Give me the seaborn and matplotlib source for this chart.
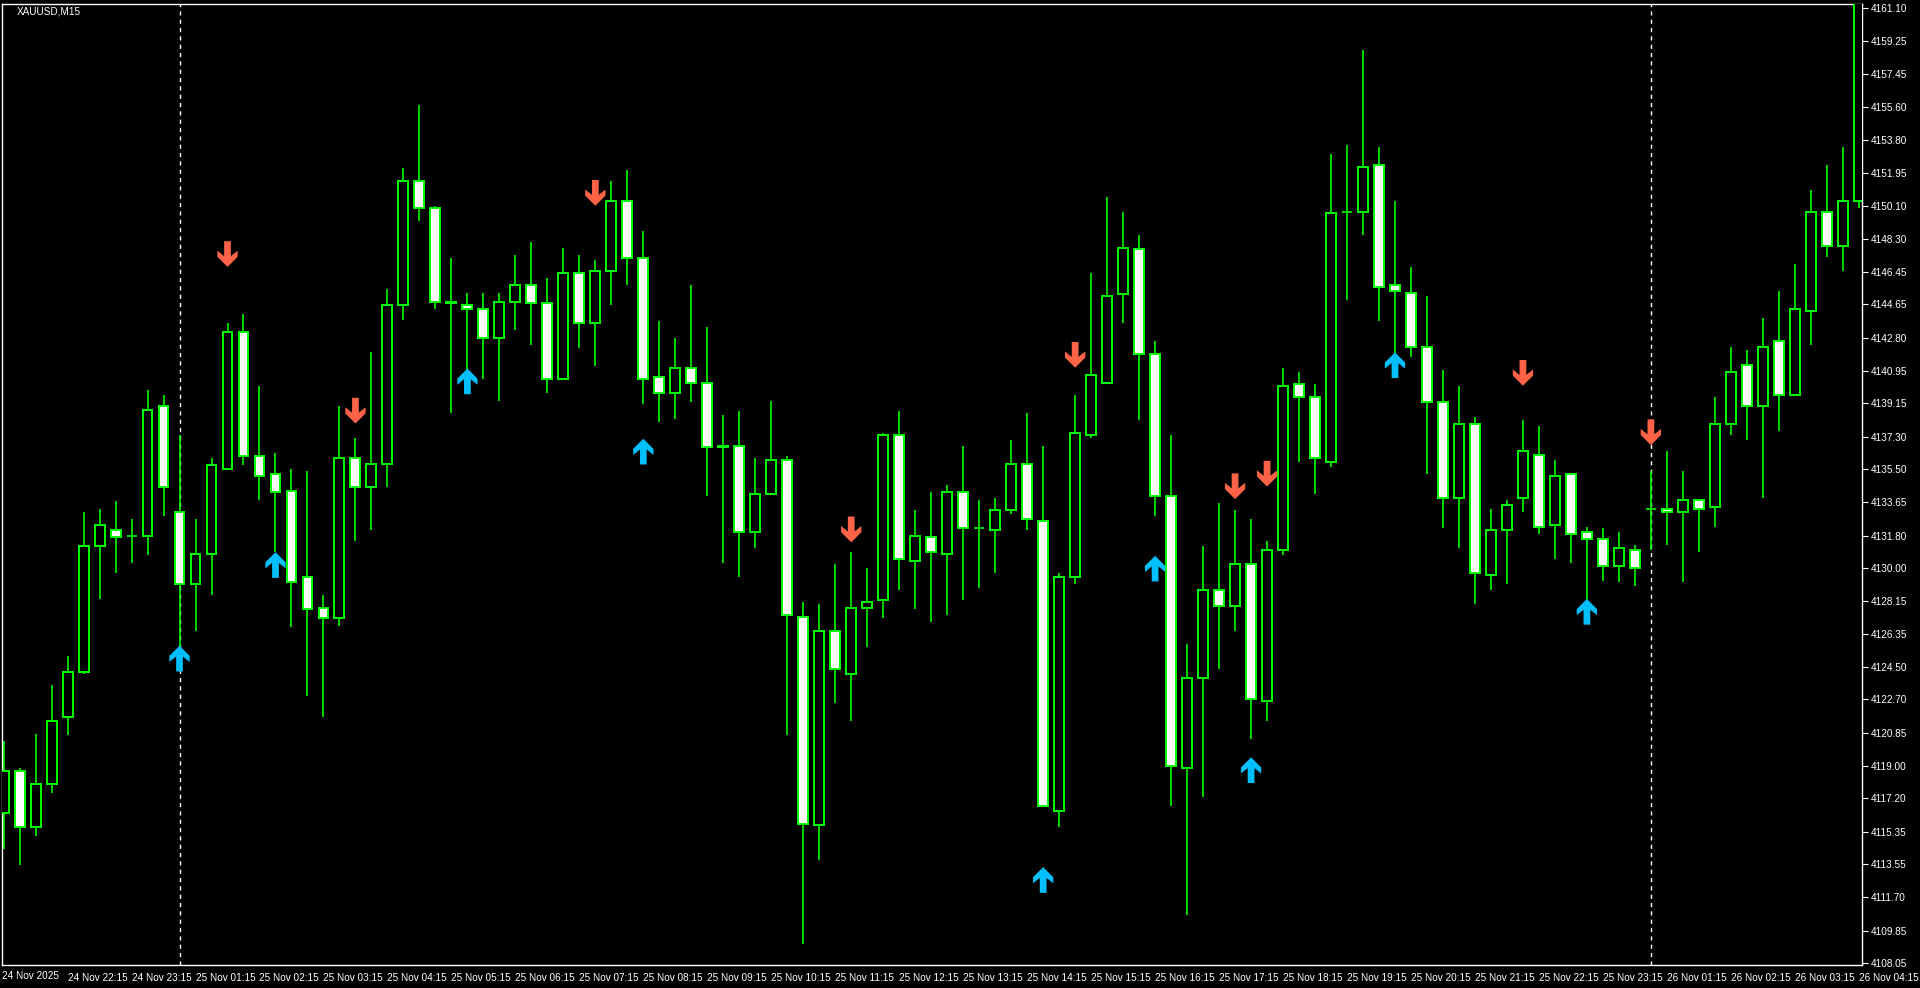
import numpy as np
import pandas as pd
import matplotlib
matplotlib.use("Agg")
import matplotlib.pyplot as plt
from matplotlib.path import Path
from matplotlib.patches import Rectangle
import seaborn as sns

opens = [4116.4,4118.7,4115.6,4118.0,4121.7,4124.2,4131.2,4132.1,4131.8,4131.8,4139.0,4133.1,4129.1,4130.8,4135.5,4143.1,4136.2,4135.2,4134.3,4129.5,
         4127.8,4127.2,4136.1,4134.5,4135.8,4144.6,4151.5,4150.0,4144.8,4144.6,4144.4,4142.8,4144.8,4145.7,4144.7,4140.5,4146.4,4143.6,4146.5,4150.4,
         4147.2,4140.6,4139.7,4141.1,4140.3,4136.8,4136.8,4132.0,4134.1,4136.0,4127.3,4115.7,4126.5,4124.1,4127.8,4128.2,4137.4,4130.4,4131.7,4130.8,
         4134.2,4132.2,4132.1,4133.2,4135.8,4132.6,4116.5,4129.5,4137.4,4140.3,4145.2,4147.7,4141.9,4134.0,4118.9,4123.9,4128.8,4127.9,4130.2,4122.6,
         4131.0,4140.2,4139.5,4135.9,4149.8,4149.8,4152.4,4145.7,4145.3,4142.3,4139.2,4133.9,4138.0,4129.6,4132.1,4133.9,4136.3,4132.4,4135.2,4132.0,
         4131.6,4130.1,4131.0,4133.3,4133.3,4133.1,4133.8,4133.4,4138.0,4141.3,4139.0,4142.6,4139.6,4144.3,4149.8,4147.9,4150.4]
highs = [4120.4,4118.9,4120.8,4123.5,4125.1,4133.1,4133.3,4133.7,4132.7,4139.9,4139.6,4137.4,4132.7,4136.1,4143.6,4144.1,4140.1,4136.4,4135.5,4135.4,
         4128.5,4139.0,4137.2,4142.0,4145.5,4152.2,4155.7,4150.1,4147.2,4145.3,4145.3,4145.3,4147.4,4148.1,4146.1,4147.8,4147.4,4147.1,4151.5,4152.1,
         4148.7,4143.7,4142.8,4145.7,4143.4,4138.5,4138.7,4136.1,4139.3,4136.2,4128.1,4128.0,4130.2,4130.9,4130.0,4137.5,4138.7,4133.2,4134.2,4134.6,
         4136.8,4133.8,4133.9,4137.1,4138.6,4136.8,4129.7,4139.6,4146.4,4150.6,4149.8,4148.5,4142.6,4137.4,4125.8,4131.2,4133.6,4133.2,4132.7,4131.5,
         4141.1,4140.9,4140.2,4153.0,4153.5,4158.8,4153.4,4150.4,4146.7,4145.1,4141.0,4140.1,4138.4,4133.3,4133.8,4138.2,4137.9,4136.0,4135.2,4132.3,
         4132.2,4132.0,4131.3,4135.4,4136.5,4135.4,4133.8,4139.5,4142.3,4142.1,4143.9,4145.4,4146.9,4151.0,4152.4,4153.4,4163.0]
lows = [4114.4,4113.5,4115.1,4117.5,4120.7,4124.1,4128.3,4129.7,4130.3,4130.7,4132.9,4124.4,4126.5,4128.5,4135.5,4135.7,4133.8,4130.9,4126.7,4122.9,
        4121.7,4126.8,4131.5,4132.1,4134.5,4143.8,4149.3,4144.4,4138.6,4140.1,4140.5,4139.3,4143.2,4142.4,4139.7,4140.5,4142.2,4141.2,4144.6,4145.7,
        4139.1,4138.1,4138.3,4139.2,4134.0,4130.3,4129.5,4131.1,4134.1,4120.7,4109.1,4113.8,4122.5,4121.5,4125.6,4127.2,4128.8,4127.7,4127.0,4127.4,
        4128.2,4128.9,4129.7,4133.0,4132.1,4116.8,4115.6,4129.1,4137.2,4140.3,4143.6,4138.2,4132.9,4116.8,4110.7,4117.3,4124.4,4126.5,4120.5,4121.5,
        4130.7,4135.9,4134.1,4135.6,4144.9,4148.5,4143.7,4141.9,4141.7,4135.2,4132.2,4131.1,4128.0,4128.8,4129.1,4133.1,4131.9,4130.5,4130.3,4128.1,
        4129.3,4129.2,4129.0,4131.0,4131.3,4129.2,4130.9,4132.3,4137.4,4137.1,4133.9,4137.6,4139.6,4142.4,4147.3,4146.5,4150.0]
closes = [4118.7,4115.6,4118.0,4121.5,4124.2,4131.2,4132.4,4131.7,4131.8,4138.8,4134.5,4129.1,4130.8,4135.7,4143.1,4136.2,4135.1,4134.2,4129.2,4127.7,
          4127.2,4136.1,4134.5,4135.8,4144.6,4151.5,4150.0,4144.8,4144.7,4144.4,4142.8,4144.8,4145.7,4144.7,4140.5,4146.4,4143.6,4146.5,4150.4,4147.2,
          4140.5,4139.7,4141.1,4140.3,4136.7,4136.7,4132.0,4134.1,4136.0,4127.4,4115.8,4126.5,4124.4,4127.8,4128.1,4137.4,4130.5,4131.8,4130.9,4134.2,
          4132.2,4132.2,4133.2,4135.8,4132.7,4116.8,4129.5,4137.5,4140.7,4145.1,4147.8,4141.9,4134.0,4119.0,4123.9,4128.8,4127.9,4130.2,4122.7,4131.0,
          4140.1,4139.5,4136.1,4149.7,4149.8,4152.3,4145.6,4145.4,4142.3,4139.2,4133.9,4138.0,4129.7,4132.1,4133.5,4136.5,4132.3,4135.1,4131.9,4131.6,
          4130.1,4131.1,4130.0,4133.3,4133.1,4133.8,4133.3,4138.0,4140.9,4139.0,4142.3,4139.6,4144.4,4149.8,4147.9,4150.4,4162.0]

sell_idx = [14, 22, 37, 53, 67, 77, 79, 95, 103]
sell_price = [4147.4, 4138.7, 4150.8, 4132.1, 4141.8, 4134.5, 4135.2, 4140.8, 4137.5]
buy_idx = [11, 17, 29, 40, 65, 72, 78, 87, 99]
buy_price = [4125.0, 4130.2, 4140.4, 4136.5, 4112.7, 4130.0, 4118.8, 4141.3, 4127.6]

price_ticks = [4161.10,4159.25,4157.45,4155.60,4153.80,4151.95,4150.10,4148.30,4146.45,4144.65,4142.80,4140.95,4139.15,4137.30,
               4135.50,4133.65,4131.80,4130.00,4128.15,4126.35,4124.50,4122.70,4120.85,4119.00,4117.20,4115.35,4113.55,4111.70,4109.85,4108.05]
time_labels = ["24 Nov 22:15", "24 Nov 23:15"] + ["25 Nov %02d:15" % h for h in range(1, 24)] + \
              ["26 Nov 01:15", "26 Nov 02:15", "26 Nov 03:15", "26 Nov 04:15"]
first_label = "24 Nov 2025"
day_breaks = [11, 103]

df = pd.DataFrame({"o": opens, "h": highs, "l": lows, "c": closes})
df["i"] = np.arange(len(df))

sns.set_style("dark", {"axes.facecolor": "black", "figure.facecolor": "black"})
plt.rcParams['font.family'] = ['Liberation Sans', 'DejaVu Sans']

fig = plt.figure(figsize=(19.2, 9.88), dpi=100, facecolor="black")
ax = fig.add_axes([2/1920, 23/988, 1860/1920, 961/988])
ax.set_facecolor("black")
lime = "#00ff00"

ax.vlines(df["i"], df["l"], df["h"], color=lime, lw=1.2, zorder=2)
w = 0.62
for _, r in df.iterrows():
    bottom = min(r.o, r.c)
    hgt = abs(r.c - r.o)
    if hgt < 0.04:
        ax.hlines(r.o, r.i - w/2, r.i + w/2, color=lime, lw=1.2, zorder=3)
        continue
    fc = "black" if r.c > r.o else "white"
    ax.add_patch(Rectangle((r.i - w/2, bottom), w, hgt, facecolor=fc, edgecolor=lime, lw=1.4, zorder=3))

up = Path([(-0.25,-1),(0.25,-1),(0.25,0.1),(0.75,-0.3),(0.75,0.15),(0,0.9),(-0.75,0.15),(-0.75,-0.3),(-0.25,0.1),(-0.25,-1)], closed=True)
down = Path([(x, -y) for x, y in up.vertices], closed=True)
sns.scatterplot(x=sell_idx, y=sell_price, marker=down, s=380, color="#ff6347", edgecolor="none", ax=ax, zorder=4)
sns.scatterplot(x=buy_idx, y=buy_price, marker=up, s=380, color="#00bfff", edgecolor="none", ax=ax, zorder=4)

for b in day_breaks:
    ax.axvline(b, color="white", lw=1, ls=(0, (3, 3)), zorder=1)

ax.set_xlim(-0.1, 116.2)
ax.set_ylim(4107.94, 4161.33)
ax.yaxis.tick_right()
ax.set_yticks(price_ticks)
ax.set_yticklabels(["%.2f" % p for p in price_ticks])
tick_pos = list(range(4, 4 + 4 * len(time_labels), 4))
ax.set_xticks(tick_pos)
ax.set_xticklabels(time_labels, ha="left")
ax.tick_params(axis="both", colors="white", labelsize=7.2, length=4, width=0.8, direction="out", pad=2)
for lab in ax.get_xticklabels() + ax.get_yticklabels():
    lab.set_color("white")
ax.text(0.0, -0.006, first_label, transform=ax.transAxes, color="white", fontsize=7.2, va="top", ha="left")
ax.text(0.008, 0.997, "XAUUSD,M15", transform=ax.transAxes, color="white", fontsize=7.2, va="top", ha="left")
for s in ax.spines.values():
    s.set_color("white")
    s.set_linewidth(1)
ax.grid(False)

fig.savefig("out.png", dpi=100, facecolor="black")
